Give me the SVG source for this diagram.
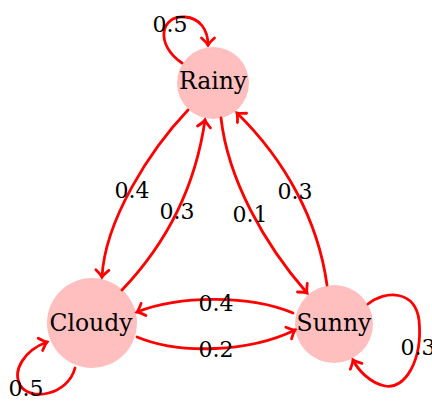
<svg xmlns="http://www.w3.org/2000/svg" width="432" height="401" viewBox="0 0 432 401">
<style>
.edge{fill:none;stroke:#ff0000;stroke-width:2.8;stroke-linecap:round;marker-end:url(#arr)}
.node{fill:#ffbfbf;stroke:none}
.nt{font-family:"DejaVu Serif","Liberation Serif",serif;font-size:23.5px;fill:#000;text-anchor:middle}
.lbl{font-family:"DejaVu Serif","Liberation Serif",serif;font-size:22px;fill:#000;text-anchor:middle}
</style>
<defs>
<marker id="arr" markerUnits="userSpaceOnUse" markerWidth="20" markerHeight="20" refX="0" refY="0" viewBox="-10 -10 20 20" orient="auto" overflow="visible">
<path d="M-7,-6.5 Q-2.5,-1.5 0,0 Q-2.5,1.5 -7,6.5" fill="none" stroke="#ff0000" stroke-width="2.8" stroke-linecap="round"/>
</marker>
</defs>
<g id="nodes">
<g id="rainy"><circle class="node" cx="213" cy="83" r="36"/><text class="nt" x="213" y="89">Rainy</text></g>
<g id="cloudy"><circle class="node" cx="92" cy="323" r="45"/><text class="nt" x="91" y="331">Cloudy</text></g>
<g id="sunny"><circle class="node" cx="334" cy="324" r="39"/><text class="nt" x="334" y="331">Sunny</text></g>
</g>
<g id="connectors">
<path class="edge" d="M182,63 C155,45 160,15 185,17 C200,18 208,30 208,45"/>
<path class="edge" d="M75,368 C68,395 30,402 20,385 C12,370 25,350 47,342"/>
<path class="edge" d="M368,304 C385,290 415,290 419,320 C423,360 405,390 385,386 C370,383 358,370 353,360"/>
<path class="edge" d="M188,110 C150,150 105,220 102,277"/>
<path class="edge" d="M122,290 C165,245 195,190 205,120"/>
<path class="edge" d="M221,118 C228,180 265,245 307,293"/>
<path class="edge" d="M327,285 C318,220 285,160 237,113"/>
<path class="edge" d="M293,313 C250,295 180,295 137,312"/>
<path class="edge" d="M137,337 C180,355 250,352 295,330"/>
<text class="lbl" x="170" y="32">0.5</text>
<text class="lbl" x="26" y="396">0.5</text>
<text class="lbl" x="418" y="355">0.3</text>
<text class="lbl" x="132" y="198">0.4</text>
<text class="lbl" x="177" y="219">0.3</text>
<text class="lbl" x="250" y="222">0.1</text>
<text class="lbl" x="295" y="199">0.3</text>
<text class="lbl" x="216" y="311">0.4</text>
<text class="lbl" x="216" y="357">0.2</text>
</g>
</svg>
